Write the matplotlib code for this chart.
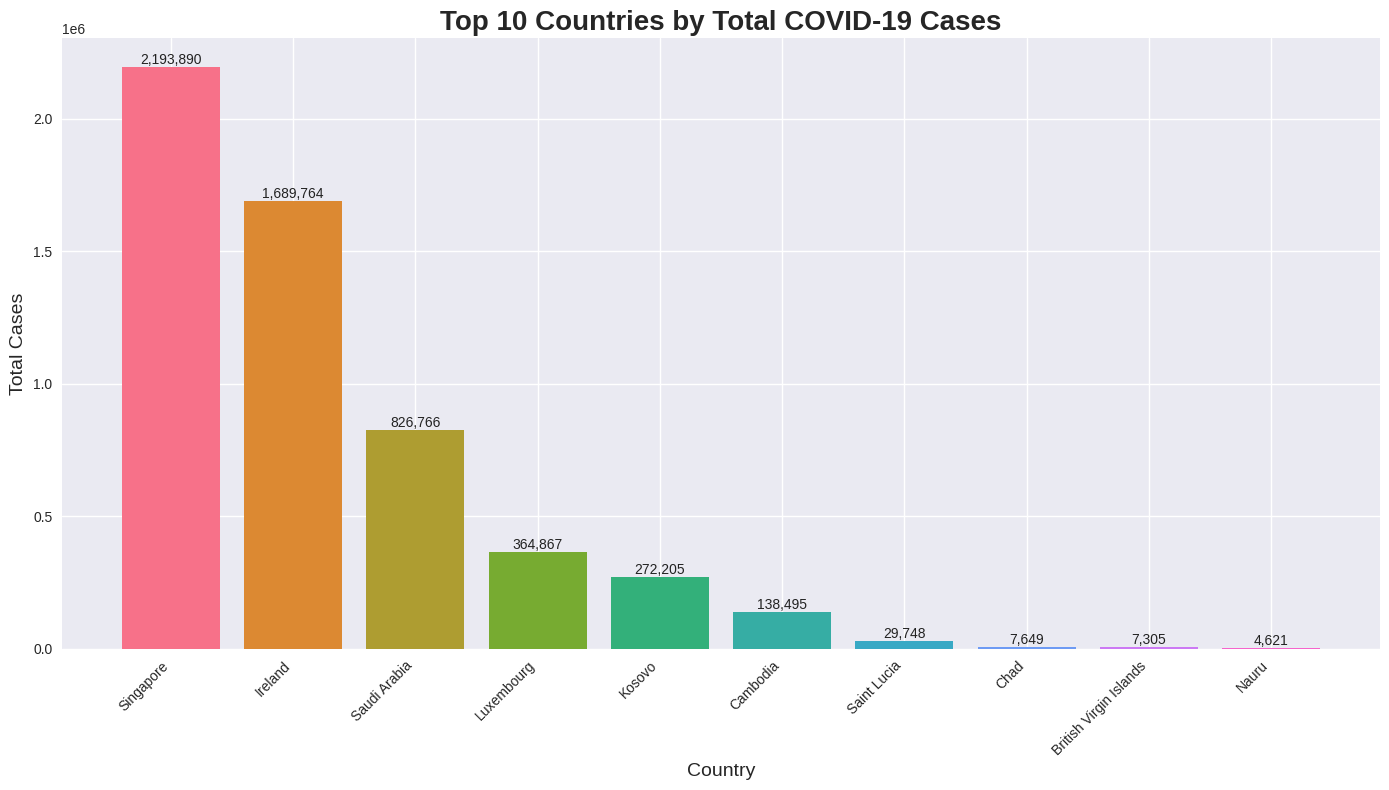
import matplotlib
matplotlib.use("Agg")
import matplotlib.pyplot as plt
import seaborn as sns

countries = ["Singapore", "Ireland", "Saudi Arabia", "Luxembourg", "Kosovo",
             "Cambodia", "Saint Lucia", "Chad", "British Virgin Islands", "Nauru"]
total_cases = [2193890, 1689764, 826766, 364867, 272205, 138495, 29748, 7649, 7305, 4621]

plt.style.use("seaborn-v0_8")
colors = sns.color_palette("husl", len(countries))

W, H = 1389, 790
fig, ax = plt.subplots(figsize=(W / 100, H / 100), dpi=100)
fig.subplots_adjust(left=62 / W, right=1380 / W, top=1 - 38 / H, bottom=1 - 649 / H)
bars = ax.bar(countries, total_cases, color=colors, linewidth=0)
for b, v in zip(bars, total_cases):
    ax.text(b.get_x() + b.get_width() / 2, b.get_height(), f"{v:,}",
            ha="center", va="bottom", fontsize=10, color="#222222")

ax.set_title("Top 10 Countries by Total COVID-19 Cases", fontsize=20, fontweight="bold")
ax.set_xlabel("Country", fontsize=14)
ax.set_ylabel("Total Cases", fontsize=14)
plt.setp(ax.get_xticklabels(), rotation=45, ha="right")
fig.savefig("out.png", dpi=100)
